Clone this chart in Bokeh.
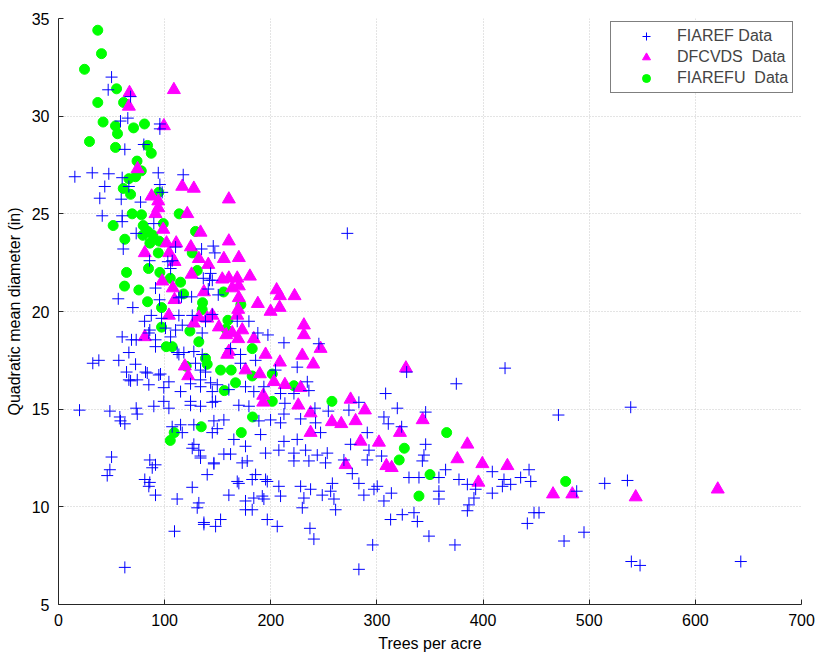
from bokeh.plotting import figure
from bokeh.models import Range1d, SingleIntervalTicker, Legend, LegendItem
from bokeh.embed import file_html
from bokeh.resources import INLINE

# FIAREF plots: trees per acre and quadratic mean diameter (in)
fiaref_tpa = [
    50, 46.8, 67.9, 65.3, 58.4, 95.5, 95.5, 62.5, 80.4, 15.4, 31.8, 47.4, 60, 94, 117.5, 43.6, 95.5, 38.9, 59.1, 77.3, 66.3, 97.7,
    41.2, 60, 60, 73.2, 61, 85.8, 103, 107.1, 134.8, 145.8, 147.3, 136.4, 142.3, 141.1, 150.5, 125.4, 115.9, 91.4, 95.2, 56.3,
    70, 87.4, 81.1, 60, 86, 97.1, 113.4, 116.6, 126, 144.9, 91.4, 105.6, 135.4, 168.4, 179.4, 66.3, 73.2, 91.4, 113.4, 127.5,
    135.4, 162.1, 171.5, 32.3, 56.8, 72.6, 129.1, 133.8, 171.5, 64.1, 83.6, 96.1, 74.2, 104, 133.8, 143.3, 149.6, 66.3, 85.1,
    99.2, 115, 133.8, 144.9, 160.5, 176.2,
    68.8, 85.1, 100.8, 110.3, 38, 82, 94.5, 67.9, 124.4, 138.5, 99.2, 124.4, 148, 118.1, 111.8, 138.5, 113.4, 144.9,
    89.8, 110.3, 105.6, 143.3,
    104, 124.4, 133.8, 169.9, 89.8, 115, 127.5, 146.4, 155.8, 149.6, 144.9, 116.6, 127.5, 133.8, 155.8, 162.1, 176.2, 177.8,
    173.1, 146.4, 185.7, 196.7, 169.9, 140.1, 126, 91.4, 111.8, 132.2, 130.7, 160.5, 176.2, 184, 192, 152.7, 176.2, 196.7, 137,
    19.8, 48.4, 57.8, 58.4, 62.5, 73.2, 74.2, 144.9, 179.4, 107.1, 165.2, 132.2, 126, 50, 48.4, 45.9, 86, 91.4, 88.3, 81.3, 86,
    85.1, 133.8, 146.4, 168.4, 182.5, 182.5, 137, 148, 109.3, 62.5,
    209.2, 308.2, 283, 319.2, 345.9, 273.6, 213.3, 241.6, 254.2, 212.4, 228.1, 242.2, 199.8, 188.8, 190.4, 209.2, 306.6, 310.7,
    323.3, 290.9, 246.9, 224.9, 212.4, 195.1, 207.6, 232.8, 243.8, 253.2, 275.2, 292.5, 290.9, 268.9, 251.6, 221.8, 235.9, 304.4,
    344.3, 345.9, 342.8, 364.7, 358.4, 330.2, 339.6, 377.3, 385.2, 408.7, 419.7, 426, 435.4, 443.3, 418.2, 408.7, 393, 391.4,
    386.7, 385.2, 358.4, 358.4, 313.6, 306.6, 297.2, 300.3, 287.7, 283, 276.8, 258, 256.4, 259.5, 261.1, 248.5, 237.5, 231.2,
    229.7, 228.1, 209.2, 207.6, 195.1, 221.8, 193.5, 206.1, 236.9, 240.6, 296, 283, 312.9, 323.9, 334.9, 338.1, 349, 373.5,
    471, 539.1, 444.9, 488.2, 514.6, 536, 448, 452.7, 441.7, 495.1, 476.3, 539.7, 547.9, 642.8,
    272.1, 187.8, 197.3, 212.4, 245.3, 185.7, 224.9, 234.4, 235.9, 193.5, 221.8, 184, 374.8, 420.7, 204.5, 328,
]
fiaref_qmd = [
    32.0, 31.35, 31.0, 29.9, 29.75, 29.6, 29.35, 28.3, 28.55, 26.9, 27.1, 27.05, 26.85, 27.1, 27.0, 26.4, 26.5, 25.8, 25.75, 25.6, 26.4, 26.1,
    24.9, 24.9, 24.6, 24.0, 23.2, 22.6, 22.55, 22.6, 23.2, 23.35, 23.0, 21.7, 21.6, 21.15, 20.85, 20.75, 20.75, 21.2, 20.6, 20.65,
    20.2, 19.8, 19.5, 18.7, 19.05, 19.65, 19.8, 19.3, 19.8, 19.85, 18.55, 18.7, 18.9, 19.5, 19.5, 17.9, 18.55, 18.2, 17.8, 17.95,
    17.8, 18.1, 17.8, 17.35, 17.5, 17.3, 17.35, 17.0, 17.35, 16.9, 16.85, 16.8, 16.5, 16.4, 16.5, 16.35, 16.25, 16.5, 16.25,
    16.1, 15.9, 16.15, 15.9, 16.0, 16.15,
    18.55, 18.9, 19.15, 19.05, 17.5, 16.9, 16.75, 16.45, 16.3, 16.9, 15.4, 15.4, 15.4, 17.9, 17.9, 19.5, 20.7, 21.6,
    24.5, 23.3, 22.2, 21.95,
    15.05, 15.2, 15.15, 15.2, 15.15, 14.2, 14.2, 14.4, 14.45, 14.0, 13.8, 13.8, 13.2, 12.6, 12.7, 12.7, 13.1, 12.35,
    12.25, 12.25, 11.65, 11.3, 11.2, 11.65, 11.0, 10.6, 10.4, 10.2, 9.95, 10.6, 10.3, 10.45, 10.55, 9.35, 9.85, 9.35, 9.2,
    14.95, 14.9, 14.6, 14.4, 14.25, 15.05, 14.75, 15.35, 15.15, 14.1, 13.45, 12.9, 13.0, 12.55, 11.9, 11.6, 12.4, 12.15, 12.0, 11.4, 11.25,
    11.05, 12.5, 12.2, 11.3, 11.4, 9.85, 9.1, 9.0, 8.75, 6.9,
    15.8, 15.8, 15.35, 15.05, 14.85, 14.95, 15.3, 15.05, 14.9, 14.75, 14.5, 14.3, 14.45, 14.4, 13.7, 14.3, 14.6, 14.25,
    14.1, 13.8, 13.8, 13.45, 13.35, 12.75, 12.9, 12.9, 12.65, 12.75, 13.2, 12.9, 12.4, 12.4, 12.25, 12.35, 12.35, 12.6,
    12.65, 13.2, 12.35, 11.9, 11.5, 11.5, 11.5, 11.4, 11.15, 11.8, 11.4, 11.15, 11.5, 11.9, 11.05, 10.7, 10.9, 10.45,
    10.1, 9.8, 10.8, 10.4, 10.7, 10.3, 10.9, 11.05, 10.6, 11.2, 11.7, 11.2, 10.8, 10.4, 9.85, 10.6, 10.9, 10.45,
    9.95, 11.05, 10.55, 11.05, 11.4, 12.75, 10.4, 9.0, 8.9, 8.35, 8.05, 6.8, 9.35, 9.6, 9.7, 9.25, 8.5, 8.05,
    14.7, 15.1, 11.3, 10.8, 11.2, 11.35, 9.7, 9.7, 9.15, 8.7, 8.25, 7.2, 7.0, 7.2,
    24.0, 18.9, 18.8, 18.4, 18.35, 17.5, 17.15, 16.4, 15.95, 16.15, 15.8, 15.9, 16.3, 17.1, 17.0, 16.9,
]

# DFCVDS plots
dfcvds_tpa = [
    66.9, 108.7, 66.3, 99.3, 74.5, 116.6, 127.5, 160.5, 87.7, 94, 94,
    91.4, 121.3, 98.7, 133.8, 101.8, 110.9, 124.7, 160.5, 81.3, 104.3, 109.3, 132.2, 141.1, 155.8, 169.9, 180.3, 125.4, 97.7,
    154.3, 160.5, 168.4, 163.7, 169.9, 107.7, 137, 109.3, 169.9, 169.3, 168.4, 104, 132.2, 140.1, 144.9, 127.5, 151.1, 173.1,
    158, 163.7, 169.3, 184, 81.3, 160.5, 159, 176.2, 122.2, 119,
    205.5, 208.6, 222.4, 187.8, 199.8, 208.3, 231.2, 231.2, 246.9, 195.1, 229.7, 208.6, 240, 189.7, 327.3, 202.9, 213.3, 228.1,
    192.9, 192.9, 225.9, 275.2, 288.7, 237.5,
    343.1, 257.6, 266.4, 279.9, 237.5, 321.7, 284.6, 301.9, 385.2, 270.5, 308.9, 313.9, 375.8, 399.3, 422.9, 395.6,
    465.9, 484.1, 543.8, 621.1,
]
dfcvds_qmd = [
    31.2, 31.35, 30.5, 29.5, 27.3, 26.4, 26.3, 25.75, 25.9, 25.65, 25.3,
    25.0, 25.0, 24.2, 24.05, 23.5, 23.5, 23.3, 23.6, 23.0, 23.0, 22.55, 22.7, 22.4, 22.7, 22.75, 21.8, 21.9, 21.55,
    21.65, 21.7, 21.7, 21.2, 21.3, 21.2, 21.0, 20.6, 20.7, 20.1, 19.8, 19.8, 19.7, 19.65, 19.8, 19.4, 19.2, 19.05,
    18.8, 18.9, 18.6, 18.6, 18.7, 17.95, 17.8, 17.0, 16.7, 17.2,
    21.1, 20.8, 20.8, 20.4, 20.0, 20.2, 19.3, 18.8, 18.1, 17.8, 17.75, 17.4, 17.3, 16.8, 17.1, 16.4, 16.25, 16.1,
    15.7, 15.35, 15.2, 15.5, 14.95, 14.8,
    14.45, 14.35, 14.25, 14.4, 13.8, 13.8, 13.35, 13.3, 13.2, 12.15, 12.1, 12.0, 12.45, 12.2, 12.1, 11.25,
    10.65, 10.65, 10.5, 10.9,
]

# FIAREFU plots
fiarefu_tpa = [
    37, 40.5, 24.5, 54.7, 37, 61.3, 29.2, 42, 53.7, 81, 70.7, 55.6, 53.7, 83.9, 87.4, 74, 78, 72.6, 66.3, 61, 67.9, 94.5,
    69.4, 78.2, 113.7, 51.5, 79.8, 98.7, 84.2, 79.5, 88.9, 62.5, 94.9, 86.1, 129.1, 94, 126, 84.8, 95.5, 64.1, 130.7, 105.3,
    115, 62.2, 75.7, 117.8, 155.5, 83.9, 135.7, 97.1, 135.4, 171.8, 159.6, 158, 97.1, 123.8, 182.5, 101.5, 107.1, 132.2,
    138.5, 140.1, 120.3, 152.7, 162.7, 182.5, 166.8, 156.2,
    182.8, 134.5, 109, 105.3, 172.2, 201.4, 257.6, 365.7, 325.8, 321, 350, 339.6, 201.4, 221.8, 477.8,
]
fiarefu_qmd = [
    34.4, 33.2, 32.4, 31.4, 30.7, 30.7, 28.7, 29.7, 29.5, 29.6, 29.4, 29.1, 28.4, 28.5, 28.1, 27.7, 27.2, 26.9, 26.8, 26.3, 26.0, 26.1,
    25.0, 24.95, 25.0, 24.4, 24.4, 24.5, 24.1, 23.9, 23.9, 23.7, 23.6, 23.5, 24.1, 23.0, 23.0, 22.2, 22.0, 22.0, 22.1, 21.7,
    21.5, 21.3, 21.1, 20.9, 21.0, 20.5, 20.45, 20.2, 20.1, 20.35, 19.55, 19.1, 19.2, 19.0, 18.1, 18.2, 18.2, 18.45,
    17.6, 17.3, 17.2, 17.0, 17.0, 16.7, 16.35, 15.95,
    14.6, 14.1, 13.8, 13.4, 13.8, 15.4, 15.4, 13.8, 13.0, 12.4, 11.65, 10.55, 16.8, 16.2, 11.3,
]

series_labels = ["FIAREF Data", "DFCVDS\u00a0 Data", "FIAREFU\u00a0 Data"]
x_ticks_step, y_ticks_step = 100, 5

FONT = "Liberation Sans"

p = figure(
    width=818, height=654,
    x_range=Range1d(0, 700), y_range=Range1d(5, 35),
    output_backend="svg", toolbar_location=None,
    min_border_left=58, min_border_right=17, min_border_top=18, min_border_bottom=49,
)
p.outline_line_color = None
p.background_fill_color = "white"
p.border_fill_color = "white"

# draw order: circles, triangles, then crosses on top
r_u = p.scatter(fiarefu_tpa, fiarefu_qmd, marker="circle", size=10,
                fill_color="#00ff00", line_color="#00ff00")
r_d = p.scatter(dfcvds_tpa, dfcvds_qmd, marker="triangle", size=13,
                fill_color="#ff00ff", line_color="#ff00ff")
r_f = p.scatter(fiaref_tpa, fiaref_qmd, marker="cross", size=12,
                line_color="#0000ff", line_width=1)

p.xaxis.ticker = SingleIntervalTicker(interval=x_ticks_step)
p.yaxis.ticker = SingleIntervalTicker(interval=y_ticks_step)
p.xaxis.axis_label = "Trees per acre"
p.yaxis.axis_label = "Quadratic mean diameter (in)"

for ax in (p.xaxis[0], p.yaxis[0]):
    ax.axis_line_color = "#262626"
    ax.major_tick_line_color = "#262626"
    ax.major_tick_in = 5
    ax.major_tick_out = 0
    ax.minor_tick_line_color = None
    ax.major_label_text_font = FONT
    ax.major_label_text_font_size = "16px"
    ax.major_label_text_color = "black"
    ax.axis_label_text_font = FONT
    ax.axis_label_text_font_size = "16px"
    ax.axis_label_text_font_style = "normal"
    ax.axis_label_text_color = "black"
    ax.axis_label_standoff = 6
    ax.major_label_standoff = 5

for g in (p.xgrid[0], p.ygrid[0]):
    g.grid_line_color = "#c8c8c8"
    g.grid_line_dash = "1 2"
    g.grid_line_width = 1

legend = Legend(
    items=[
        LegendItem(label=series_labels[0], renderers=[r_f]),
        LegendItem(label=series_labels[1], renderers=[r_d]),
        LegendItem(label=series_labels[2], renderers=[r_u]),
    ],
    location=(552, 511),
    margin=0,
    padding=4,
    spacing=1,
    glyph_width=62,
    glyph_height=20,
    label_height=20,
    label_standoff=0,
    label_text_font=FONT,
    label_text_font_size="16px",
    border_line_color="black",
    border_line_width=1,
    background_fill_color="white",
    background_fill_alpha=1,
)
p.add_layout(legend)

open("out.html", "w").write(file_html(p, INLINE))
